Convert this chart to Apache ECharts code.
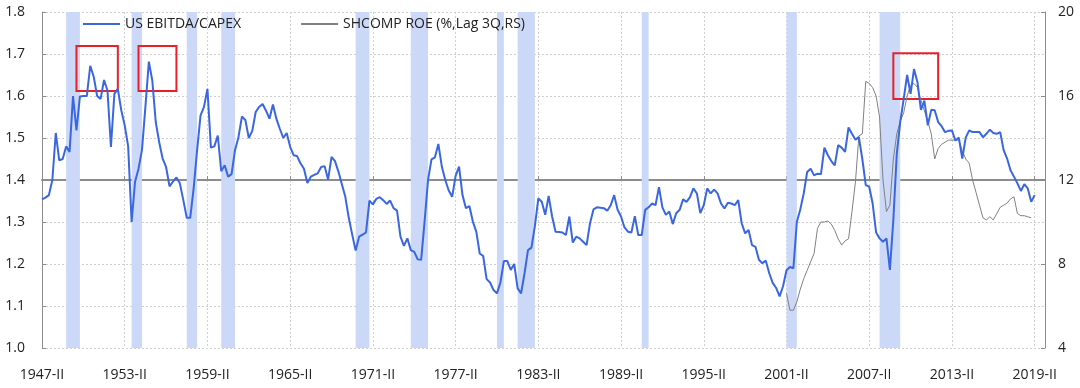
<!DOCTYPE html>
<html><head><meta charset="utf-8">
<script src="https://cdn.jsdelivr.net/npm/echarts/dist/echarts.min.js"></script>
<style>html,body{margin:0;padding:0;background:#fff}#c{width:1080px;height:388px}</style>
</head><body><div id="c"></div>
<script>
// Quarterly category axis: 1947-II ... 2020-I
const startYear = 1947, startQuarter = 2, quarterCount = 292;
const romanQ = ['I','II','III','IV'];
const categories = Array.from({length: quarterCount}, (_, i) => {
  const t = (startQuarter - 1) + i;
  return (startYear + Math.floor(t / 4)) + '-' + romanQ[t % 4];
});

// US EBITDA/CAPEX (left axis), from 1947-II
const ebitdaCapex = [
1.354,1.358,1.364,1.40,1.512,1.447,1.45,1.48,1.467,1.60,
1.518,1.599,1.60,1.60,1.672,1.646,1.60,1.593,1.638,1.613,
1.479,1.605,1.617,1.566,1.53,1.48,1.30,1.396,1.427,1.471,
1.574,1.682,1.637,1.538,1.49,1.451,1.431,1.385,1.396,1.406,
1.392,1.352,1.31,1.31,1.38,1.471,1.554,1.574,1.617,1.477,
1.48,1.506,1.421,1.435,1.408,1.414,1.471,1.502,1.551,1.543,
1.50,1.517,1.562,1.574,1.581,1.565,1.546,1.58,1.546,1.522,
1.50,1.512,1.479,1.459,1.457,1.44,1.427,1.393,1.408,1.412,
1.416,1.431,1.433,1.401,1.455,1.445,1.42,1.39,1.36,1.31,
1.27,1.232,1.265,1.27,1.275,1.351,1.342,1.355,1.359,1.352,
1.343,1.351,1.333,1.327,1.265,1.243,1.261,1.233,1.229,1.211,
1.21,1.301,1.40,1.449,1.454,1.486,1.432,1.40,1.375,1.36,
1.41,1.432,1.364,1.333,1.338,1.301,1.277,1.225,1.219,1.164,
1.156,1.138,1.13,1.156,1.207,1.207,1.186,1.2,1.142,1.13,
1.178,1.233,1.239,1.29,1.356,1.348,1.317,1.362,1.313,1.277,
1.276,1.275,1.269,1.313,1.251,1.265,1.261,1.253,1.245,1.297,
1.33,1.335,1.334,1.333,1.327,1.34,1.364,1.329,1.313,1.287,
1.277,1.275,1.314,1.269,1.269,1.329,1.335,1.344,1.34,1.383,
1.335,1.317,1.325,1.295,1.321,1.329,1.354,1.348,1.359,1.38,
1.368,1.321,1.34,1.38,1.368,1.377,1.368,1.344,1.332,1.346,
1.344,1.34,1.352,1.297,1.273,1.281,1.245,1.241,1.21,1.202,
1.208,1.178,1.155,1.143,1.123,1.147,1.185,1.193,1.19,1.30,
1.33,1.368,1.419,1.427,1.411,1.415,1.414,1.477,1.459,1.445,
1.435,1.483,1.477,1.467,1.525,1.51,1.496,1.502,1.45,1.388,
1.384,1.344,1.275,1.261,1.253,1.261,1.186,1.305,1.463,1.538,
1.593,1.65,1.605,1.664,1.633,1.567,1.589,1.53,1.567,1.566,
1.538,1.528,1.514,1.517,1.518,1.494,1.501,1.451,1.501,1.518,
1.514,1.514,1.514,1.502,1.51,1.52,1.512,1.51,1.514,1.471,
1.451,1.423,1.408,1.392,1.374,1.39,1.38,1.348,1.364
];

// SHCOMP ROE (%, lag 3Q, right axis), starting at 2001-II
const roeStart = '2001-II';
const shcompRoe = [
6.6,5.8,5.8,6.2,6.8,7.3,7.7,8.1,8.5,9.7,
10.0,10.0,10.05,9.9,9.6,9.2,8.9,9.1,9.2,10.5,
11.9,14.1,14.2,16.7,16.6,16.4,16.0,15.0,12.0,10.5,
10.8,13.0,14.2,14.8,15.2,16.0,16.5,16.6,16.4,15.8,
15.3,14.8,14.2,13.0,13.5,13.7,13.8,13.9,13.9,13.9,
13.9,13.4,13.0,12.8,12.0,11.4,10.8,10.2,10.1,10.25,
10.1,10.4,10.7,10.8,10.9,11.1,11.2,10.4,10.3,10.3,
10.25,10.2
];

// Shaded (recession) periods
const shadedFrom = ['1949-I','1953-IV','1957-IV','1960-II','1970-I','1974-I','1980-II','1981-IV','1990-IV','2001-II','2008-I'];
const shadedTo   = ['1950-I','1954-III','1958-III','1961-II','1971-I','1975-II','1980-IV','1983-I','1991-II','2002-I','2009-III'];

// Red highlight boxes
const boxFrom   = ['1949-IV','1954-II','2009-I'];
const boxTo     = ['1952-IV','1957-I','2012-II'];
const boxTop    = [1.719, 1.719, 1.702];
const boxBottom = [1.612, 1.612, 1.593];

const roeIdx = categories.indexOf(roeStart);
const roeSeries = categories.map((_, i) => (i >= roeIdx && i - roeIdx < shcompRoe.length) ? shcompRoe[i - roeIdx] : null);
const emptyData = categories.map(() => null);

const FONT = 'Open Sans';
const AX = '#8c8c8c';
const BLUE = '#3a66e0', GRAY = '#808080';
const chart = echarts.init(document.getElementById('c'), null, {renderer: 'canvas'});
chart.setOption({
  animation: false,
  textStyle: {fontFamily: FONT},
  grid: {left: 42, right: 35, top: 12, bottom: 40},
  legend: {
    left: 78, top: 12, itemWidth: 37, itemHeight: 2, itemGap: 60,
    icon: 'rect',
    textStyle: {fontSize: 14, color: '#222', fontFamily: FONT},
    data: [
      {name: 'US EBITDA/CAPEX', itemStyle: {color: BLUE}},
      {name: 'SHCOMP ROE (%,Lag 3Q,RS)', itemStyle: {color: GRAY}}
    ]
  },
  xAxis: [
    {
      type: 'category', data: categories, boundaryGap: false,
      axisLine: {show: false, onZero: false}, axisTick: {show: false},
      axisLabel: {interval: 23, margin: 20, fontSize: 14, color: '#222', fontFamily: FONT},
      splitLine: {show: true, interval: 23, lineStyle: {color: '#d0d0d0', type: [2, 2]}}
    },
    {
      type: 'category', data: categories, boundaryGap: false, position: 'bottom',
      axisLine: {show: true, onZero: true, onZeroAxisIndex: 2, lineStyle: {color: AX, width: 2}},
      axisTick: {show: true, inside: true, interval: 23, length: 4, lineStyle: {color: AX}},
      axisLabel: {show: false}, splitLine: {show: false}
    }
  ],
  yAxis: [
    {
      type: 'value', min: 1.0, max: 1.8, interval: 0.1, position: 'left',
      axisLine: {show: true, lineStyle: {color: AX}},
      axisTick: {show: true, inside: true, length: 4, lineStyle: {color: AX}},
      axisLabel: {formatter: v => v.toFixed(1), margin: 17, fontSize: 14, color: '#222', fontFamily: FONT},
      splitLine: {show: true, lineStyle: {color: '#d0d0d0', type: [2, 2]}}
    },
    {
      type: 'value', min: 4, max: 20, interval: 4, position: 'right',
      axisLine: {show: true, lineStyle: {color: AX}},
      axisTick: {show: true, inside: true, length: 4, lineStyle: {color: AX}},
      axisLabel: {margin: 13, fontSize: 14, color: '#222', fontFamily: FONT},
      splitLine: {show: false}
    },
    {type: 'value', min: -1, max: 1, show: false}
  ],
  series: [
    {
      name: 'shaded', type: 'line', data: emptyData, symbol: 'none', silent: true, z: 1,
      markArea: {
        silent: true, itemStyle: {color: '#cbd8f7'},
        data: shadedFrom.map((f, i) => [{xAxis: f}, {xAxis: shadedTo[i]}])
      }
    },
    {
      name: 'SHCOMP ROE (%,Lag 3Q,RS)', type: 'line', yAxisIndex: 1, data: roeSeries,
      symbol: 'none', z: 2, lineStyle: {color: GRAY, width: 1}, itemStyle: {color: GRAY}
    },
    {
      name: 'US EBITDA/CAPEX', type: 'line', data: ebitdaCapex, symbol: 'none', z: 3,
      lineStyle: {color: BLUE, width: 2}, itemStyle: {color: BLUE}
    },
    {
      name: 'boxes', type: 'line', data: emptyData, symbol: 'none', silent: true, z: 5,
      markArea: {
        silent: true,
        itemStyle: {color: 'rgba(0,0,0,0)', borderColor: '#e8202a', borderWidth: 2},
        data: boxFrom.map((f, i) => [{coord: [f, boxTop[i]]}, {coord: [boxTo[i], boxBottom[i]]}])
      }
    }
  ]
});
</script>
</body></html>
